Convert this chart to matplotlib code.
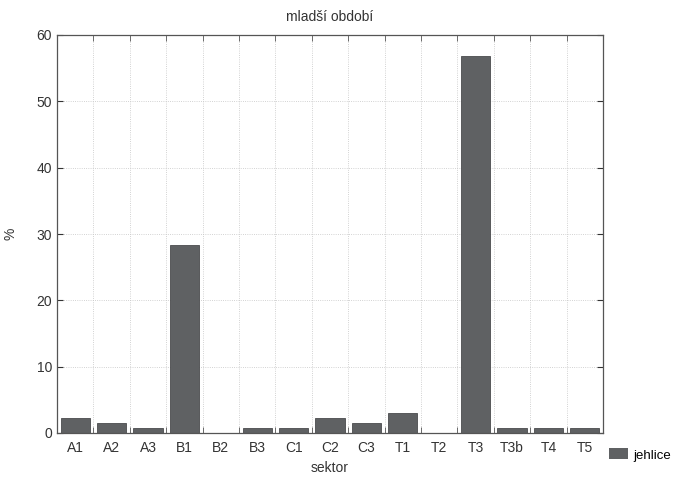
import numpy as np
import matplotlib.pyplot as plt
from matplotlib.patches import Patch

plt.rcParams["font.family"] = ["Liberation Sans", "DejaVu Sans"]

# --- data ---
sektory = ["A1", "A2", "A3", "B1", "B2", "B3", "C1", "C2", "C3",
           "T1", "T2", "T3", "T3b", "T4", "T5"]
jehlice = [2.25, 1.5, 0.75, 28.3, 0, 0.75, 0.75, 2.25, 1.5,
           3.0, 0, 56.8, 0.75, 0.75, 0.75]

bar_color = "#5f6163"

fig = plt.figure(figsize=(6.8, 4.78), dpi=100)
ax = fig.add_axes([57 / 680, 1 - 433 / 478, 546 / 680, 398 / 478])

x = np.arange(len(sektory))
ax.bar(x, jehlice, width=0.8, color=bar_color, edgecolor="#4a4b4d", linewidth=0.6)

ax.set_xlim(-0.5, len(sektory) - 0.5)
ax.set_ylim(0, 60)
ax.set_xticks(x)
ax.set_xticklabels(sektory)
ax.set_xticks(np.arange(-0.5, len(sektory)), minor=True)
ax.set_yticks(np.arange(0, 61, 10))

ax.tick_params(axis="x", which="major", length=0, labelsize=10, colors="#333333", pad=6)
ax.tick_params(axis="x", which="minor", direction="in", length=4, top=True, color="#555555")
ax.tick_params(axis="y", which="major", direction="in", length=4, right=True,
               labelsize=10, colors="#333333")

ax.grid(True, axis="x", which="minor", linestyle=":", color="#c4c4c4", linewidth=0.6)
ax.grid(True, axis="y", which="major", linestyle=":", color="#c4c4c4", linewidth=0.6)
ax.set_axisbelow(True)

for s in ax.spines.values():
    s.set_color("#555555")
    s.set_linewidth(0.9)

ax.set_title("mladší období", fontsize=10, color="#333333", pad=10)
ax.set_xlabel("sektor", fontsize=10, color="#333333", labelpad=4)
ax.set_ylabel("%", fontsize=10, color="#333333", labelpad=14)

fig.legend(handles=[Patch(facecolor=bar_color, label="jehlice")],
           loc="center left", bbox_to_anchor=(606 / 680, 1 - 455 / 478),
           frameon=False, fontsize=9.5, handlelength=1.5, handleheight=0.9,
           handletextpad=0.35, borderaxespad=0, borderpad=0.2)

fig.savefig("out.png", dpi=100)
